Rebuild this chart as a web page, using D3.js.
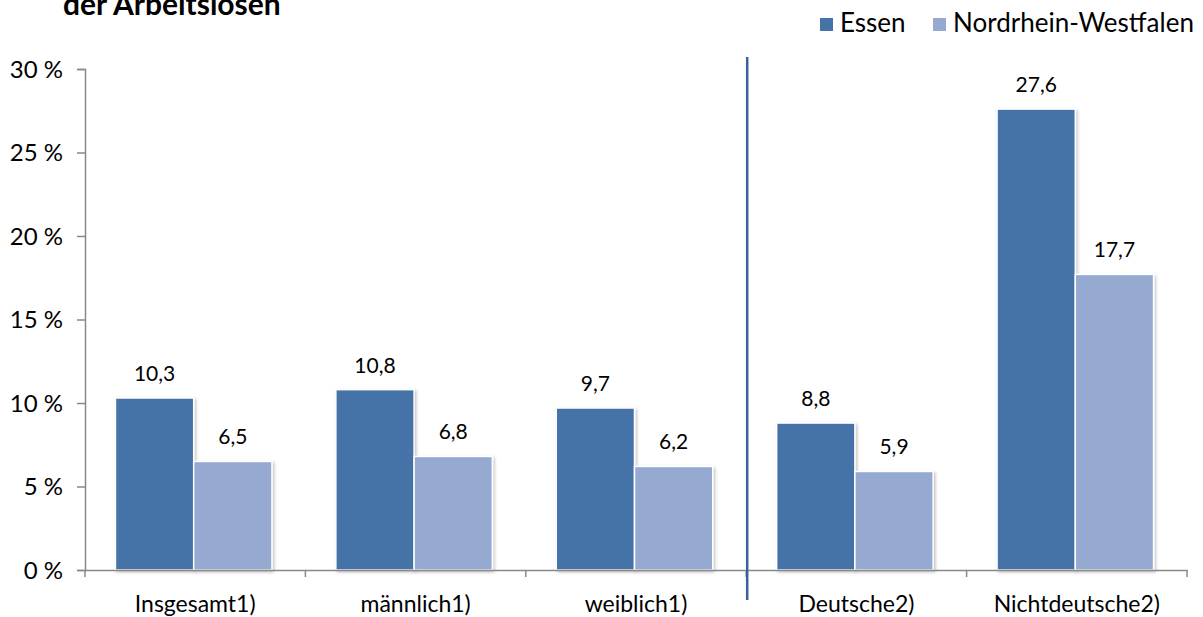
<!DOCTYPE html>
<html><head><meta charset="utf-8">
<script src="https://cdn.jsdelivr.net/npm/d3@7"></script>
<style>
body{margin:0;background:#fff;}
svg{display:block;font-family:Lato,"Open Sans",sans-serif;}
</style></head>
<body>
<svg id="chart" width="1203" height="617"></svg>
<script>
const categories = ["Insgesamt1)", "männlich1)", "weiblich1)", "Deutsche2)", "Nichtdeutsche2)"];
const seriesNames = ["Essen", "Nordrhein-Westfalen"];
const essen = [10.3, 10.8, 9.7, 8.8, 27.6];
const nrw = [6.5, 6.8, 6.2, 5.9, 17.7];
const yTicks = [0, 5, 10, 15, 20, 25, 30];
const title = "der Arbeitslosen";

(function () {
const colors = ["#4572a7", "#95a9d1"];
const series = [essen, nrw];
const FONT = "Lato";

const svg = d3.select("#chart");
const mLeft = 85, mRight = 1187, mTop = 69, mBottom = 570;

const x = d3.scaleBand().domain(categories).range([mLeft, mRight]).padding(0);
const groupW = x.bandwidth() * 0.71;
const xs = d3.scaleBand().domain(seriesNames).range([0, groupW]).padding(0);
const y = d3.scaleLinear().domain([0, 30]).range([mBottom, mTop]);

const fmt = v => String(v).replace(".", ",");
const bx = (i, si) => x(categories[i]) + (x.bandwidth() - groupW) / 2 - 1.5 + xs(seriesNames[si]);

const defs = svg.append("defs");
const f = defs.append("filter").attr("id", "sh").attr("x", "-10%").attr("y", "-10%").attr("width", "130%").attr("height", "130%");
f.append("feDropShadow").attr("dx", 1.5).attr("dy", 1.5).attr("stdDeviation", 1.5).attr("flood-color", "#000").attr("flood-opacity", 0.25);

series.forEach((vals, si) => {
  const g = svg.append("g");
  g.selectAll("rect").data(vals).join("rect")
    .attr("x", (d, i) => bx(i, si))
    .attr("y", d => y(d))
    .attr("width", xs.bandwidth())
    .attr("height", d => mBottom - y(d))
    .attr("fill", colors[si])
    .attr("stroke", "#fff").attr("stroke-width", 1.5)
    .attr("filter", "url(#sh)");
  g.selectAll("text").data(vals).join("text")
    .attr("x", (d, i) => bx(i, si) + xs.bandwidth() / 2)
    .attr("y", d => y(d) - 17)
    .attr("text-anchor", "middle")
    .attr("font-family", FONT)
    .attr("font-size", 21).attr("fill", "#000")
    .text(d => fmt(d));
});

const yAxis = d3.axisLeft(y).tickValues(yTicks).tickSize(8).tickPadding(14).tickFormat(d => d + " %");
const ya = svg.append("g").attr("transform", `translate(${mLeft},0)`).call(yAxis);
ya.select(".domain").attr("stroke", "#898989").attr("stroke-width", 1.5);
ya.selectAll(".tick line").attr("stroke", "#898989").attr("stroke-width", 1.5);
ya.selectAll(".tick text").attr("font-size", 24).attr("fill", "#000").attr("font-family", FONT).attr("dy", "0.35em");

const xAxis = d3.axisBottom(x).tickSize(0).tickPadding(26);
const xa = svg.append("g").attr("transform", `translate(0,${mBottom})`).call(xAxis);
xa.select(".domain").attr("stroke", "#898989").attr("stroke-width", 1.5);
xa.selectAll(".tick text").attr("font-size", 23).attr("fill", "#000").attr("font-family", FONT);
const bounds = categories.map(c => x(c)).concat([mRight]);
svg.append("g").selectAll("line").data(bounds).join("line")
  .attr("x1", d => d).attr("x2", d => d).attr("y1", mBottom).attr("y2", mBottom + 7)
  .attr("stroke", "#898989").attr("stroke-width", 1.5);

const divX = x(categories[3]) + 1;
svg.append("line").attr("x1", divX).attr("x2", divX).attr("y1", 57).attr("y2", 600)
  .attr("stroke", "#3a6098").attr("stroke-width", 2.5);

svg.append("text").attr("x", 63).attr("y", 15).attr("font-size", 30).attr("font-weight", "bold")
  .attr("font-family", FONT).attr("fill", "#000").text(title);

const leg = svg.append("g");
const legX = [820, 933];
seriesNames.forEach((n, i) => {
  leg.append("rect").attr("x", legX[i]).attr("y", 18).attr("width", 13).attr("height", 13).attr("fill", colors[i]);
  leg.append("text").attr("x", legX[i] + 20).attr("y", 32).attr("font-size", 26).attr("font-family", FONT).attr("fill", "#000").text(n);
});
})();
</script>
</body></html>
